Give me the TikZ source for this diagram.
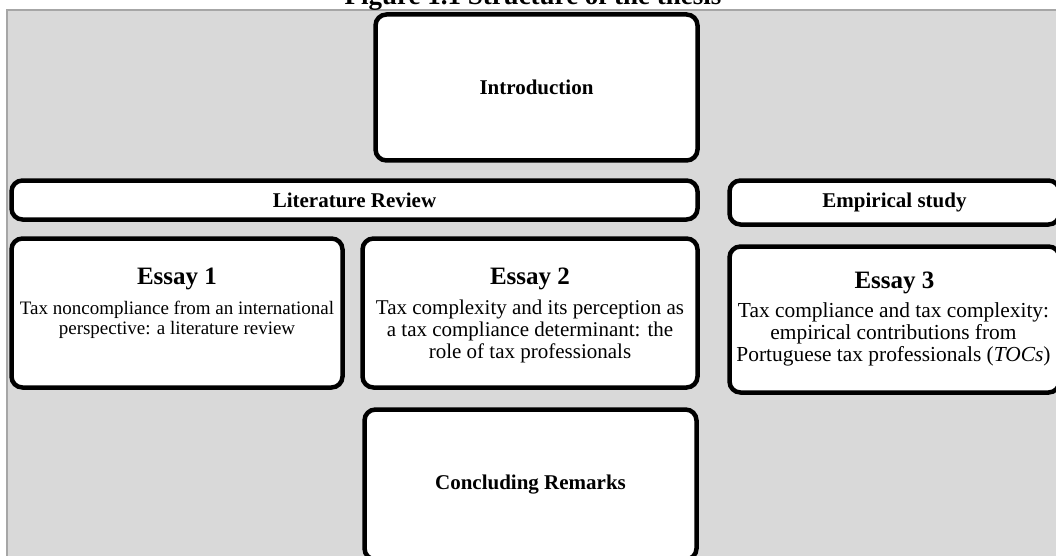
\documentclass[tikz,border=0pt]{standalone}
\usepackage{fontspec}
\setmainfont{Liberation Serif}
\usetikzlibrary{positioning}

\definecolor{backdrop}{HTML}{D9D9D9}
\definecolor{backline}{HTML}{A6A6A6}

\newcommand{\headsize}{\fontsize{21}{24}\selectfont\bfseries}
\newcommand{\essayhead}{\fontsize{25}{27}\selectfont\bfseries}
\newcommand{\bodysize}{\fontsize{21}{22}\selectfont}
\newcommand{\widebody}{\fontsize{21.4}{22}\selectfont}
\newcommand{\smallbody}{\fontsize{19}{19.5}\selectfont}

\tikzstyle{panel}=[draw=black,line width=4.5pt,rounded corners=11pt,fill=white,inner sep=0pt]
\tikzstyle{heading}=[font=\headsize,inner sep=0pt]
\tikzstyle{essay title}=[font=\essayhead,inner sep=0pt]
\tikzstyle{essay text}=[font=\bodysize,align=center,inner sep=0pt,anchor=north]

\begin{document}
\begin{tikzpicture}[x=1pt,y=-1pt]
    % Frame and grey backdrop
    \useasboundingbox (0,0) rectangle (1056,556);
    \clip (0,0) rectangle (1056,556);
    \fill[backdrop,draw=backline,line width=1.5pt] (7,10) rectangle (1080,580);
    \node[font=\fontsize{27}{30}\selectfont\bfseries,anchor=base,inner sep=0pt] (caption) at (533,5) {Figure 1.1 Structure of the thesis};
    % Draw the boxes
    \foreach \pos/\name/\w/\h in {{(536.5,87.5)/intro/322/146},
        {(354.5,200)/litrev/686/39},{(894.5,202.5)/empirical/330/44},
        {(177,313)/essay1/331/149},{(530,313)/essay2/335/149},{(894.5,319.5)/essay3/330/146},
        {(530.5,484.5)/concl/332/150}}
    \node[panel,minimum width=\w pt,minimum height=\h pt] (\name) at \pos {};
    % Headings
    \foreach \name/\text in {intro/Introduction,litrev/Literature Review,
        empirical/Empirical study,concl/Concluding Remarks}
    \node[heading] (\name-label) at (\name.center) {\text};
    % Essays
    \node[essay title] (essay1-title) at (177,279) {Essay 1};
    \node[essay text,font=\smallbody] (essay1-text) at (177,301) {Tax noncompliance from an international\\ perspective: a literature review};
    \node[essay title] (essay2-title) at (530,279) {Essay 2};
    \node[essay text] (essay2-text) at (530,300) {Tax complexity and its perception as\\ a tax compliance determinant: the\\ role of tax professionals};
    \node[essay title] (essay3-title) at (894.5,283) {Essay 3};
    \node[essay text,font=\widebody] (essay3-text) at (893.5,302.5) {Tax compliance and tax complexity:\\ empirical contributions from\\ Portuguese tax professionals (\textit{TOCs})};
\end{tikzpicture}
\end{document}
